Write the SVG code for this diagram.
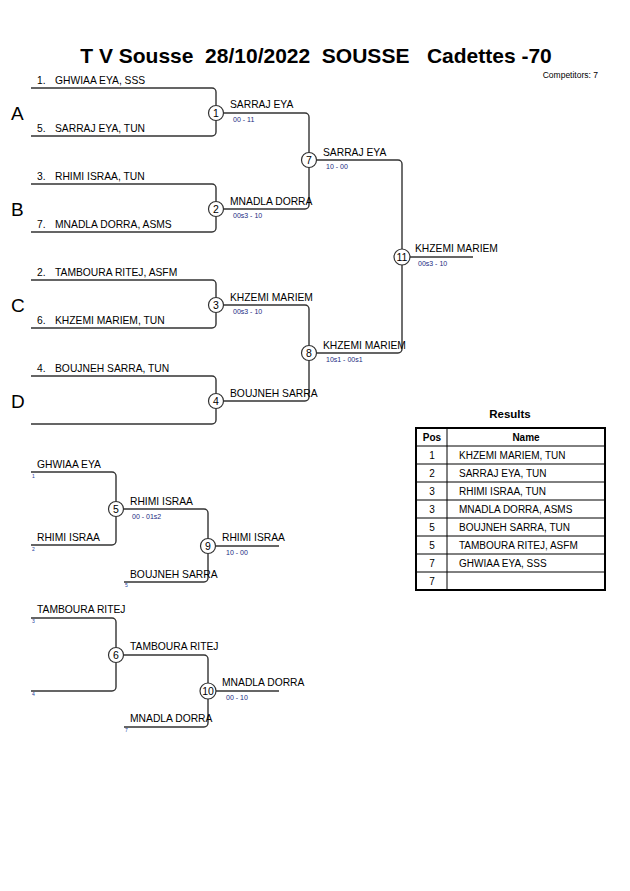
<svg xmlns="http://www.w3.org/2000/svg" width="630" height="891" viewBox="0 0 630 891">
<style>
text{font-family:"Liberation Sans",Arial,sans-serif;fill:#000}
.t{font-size:21px;font-weight:bold}
.n{font-size:10.3px}
.s{font-size:7px;fill:#1a2a80}
.g{font-size:19px}
.c{font-size:10.5px;text-anchor:middle}
.tiny{font-size:5px;fill:#2040a0}
.ln{fill:none;stroke:#333;stroke-width:1.4}
.cir{fill:#fff;stroke:#333;stroke-width:1.2}
.tb{fill:none;stroke:#000;stroke-width:1}
.tbo{fill:none;stroke:#000;stroke-width:2}
</style>
<rect width="630" height="891" fill="#fff"/>
<text class="t" x="316" y="63" text-anchor="middle" xml:space="preserve">T V Sousse  28/10/2022  SOUSSE   Cadettes -70</text>
<text x="598" y="78" font-size="8.5" text-anchor="end">Competitors: 7</text>
<g id="pools">
<text class="g" x="11" y="120">A</text>
<text class="g" x="11" y="216">B</text>
<text class="g" x="11" y="312">C</text>
<text class="g" x="11" y="408">D</text>
</g>
<g id="connectors">
<path class="ln" d="M31 88H212a4 4 0 0 1 4 4V132a4 4 0 0 1-4 4H31"/>
<path class="ln" d="M31 184H212a4 4 0 0 1 4 4V228a4 4 0 0 1-4 4H31"/>
<path class="ln" d="M31 280H212a4 4 0 0 1 4 4V324a4 4 0 0 1-4 4H31"/>
<path class="ln" d="M31 376H212a4 4 0 0 1 4 4V420a4 4 0 0 1-4 4H31"/>
<path class="ln" d="M216 113H305a4 4 0 0 1 4 4V205a4 4 0 0 1-4 4H216"/>
<path class="ln" d="M216 305H305a4 4 0 0 1 4 4V397a4 4 0 0 1-4 4H216"/>
<path class="ln" d="M309 160H398a4 4 0 0 1 4 4V349a4 4 0 0 1-4 4H309"/>
<path class="ln" d="M402 257H473"/>
<path class="ln" d="M31 472H112a4 4 0 0 1 4 4V541a4 4 0 0 1-4 4H31"/>
<path class="ln" d="M116 509H204a4 4 0 0 1 4 4V578a4 4 0 0 1-4 4H124"/>
<path class="ln" d="M208 546H279"/>
<path class="ln" d="M31 618H112a4 4 0 0 1 4 4V687a4 4 0 0 1-4 4H31"/>
<path class="ln" d="M116 655H204a4 4 0 0 1 4 4V723a4 4 0 0 1-4 4H124"/>
<path class="ln" d="M208 691H279"/>
</g>
<g id="entries">
<text class="n" x="37" y="84">1.</text><text class="n" x="55" y="84">GHWIAA EYA, SSS</text>
<text class="n" x="37" y="132">5.</text><text class="n" x="55" y="132">SARRAJ EYA, TUN</text>
<text class="n" x="37" y="180">3.</text><text class="n" x="55" y="180">RHIMI ISRAA, TUN</text>
<text class="n" x="37" y="228">7.</text><text class="n" x="55" y="228">MNADLA DORRA, ASMS</text>
<text class="n" x="37" y="276">2.</text><text class="n" x="55" y="276">TAMBOURA RITEJ, ASFM</text>
<text class="n" x="37" y="324">6.</text><text class="n" x="55" y="324">KHZEMI MARIEM, TUN</text>
<text class="n" x="37" y="372">4.</text><text class="n" x="55" y="372">BOUJNEH SARRA, TUN</text>
</g>
<g id="m1"><circle class="cir" cx="216" cy="113" r="7.5"/><text class="c" x="216" y="117">1</text>
<text class="n" x="230" y="108">SARRAJ EYA</text><text class="s" x="233" y="122">00 - 11</text></g>
<g id="m2"><circle class="cir" cx="216" cy="209" r="7.5"/><text class="c" x="216" y="213">2</text>
<text class="n" x="230" y="205">MNADLA DORRA</text><text class="s" x="233" y="218">00s3 - 10</text></g>
<g id="m3"><circle class="cir" cx="216" cy="305" r="7.5"/><text class="c" x="216" y="309">3</text>
<text class="n" x="230" y="301">KHZEMI MARIEM</text><text class="s" x="233" y="314">00s3 - 10</text></g>
<g id="m4"><circle class="cir" cx="216" cy="401" r="7.5"/><text class="c" x="216" y="405">4</text>
<text class="n" x="230" y="397">BOUJNEH SARRA</text></g>
<g id="m7"><circle class="cir" cx="309" cy="160" r="7.5"/><text class="c" x="309" y="164">7</text>
<text class="n" x="323" y="156">SARRAJ EYA</text><text class="s" x="326" y="169">10 - 00</text></g>
<g id="m8"><circle class="cir" cx="309" cy="353" r="7.5"/><text class="c" x="309" y="357">8</text>
<text class="n" x="323" y="349">KHZEMI MARIEM</text><text class="s" x="326" y="362">10s1 - 00s1</text></g>
<g id="m11"><circle class="cir" cx="402" cy="257" r="8"/><text class="c" x="402" y="261">11</text>
<text class="n" x="415" y="252">KHZEMI MARIEM</text><text class="s" x="418" y="266">00s3 - 10</text></g>
<g id="m5"><text class="n" x="37" y="468">GHWIAA EYA</text><text class="tiny" x="32" y="478">1</text>
<text class="n" x="37" y="541">RHIMI ISRAA</text><text class="tiny" x="32" y="551">2</text>
<circle class="cir" cx="116" cy="509" r="7.5"/><text class="c" x="116" y="513">5</text>
<text class="n" x="130" y="505">RHIMI ISRAA</text><text class="s" x="132" y="519">00 - 01s2</text></g>
<g id="m9"><text class="n" x="130" y="578">BOUJNEH SARRA</text><text class="tiny" x="125" y="587">5</text>
<circle class="cir" cx="208" cy="546" r="7.5"/><text class="c" x="208" y="550">9</text>
<text class="n" x="222" y="541">RHIMI ISRAA</text><text class="s" x="226" y="555">10 - 00</text></g>
<g id="m6"><text class="n" x="37" y="613">TAMBOURA RITEJ</text><text class="tiny" x="32" y="623">3</text>
<text class="tiny" x="32" y="696">4</text>
<circle class="cir" cx="116" cy="655" r="7.5"/><text class="c" x="116" y="659">6</text>
<text class="n" x="130" y="650">TAMBOURA RITEJ</text></g>
<g id="m10"><text class="n" x="130" y="722">MNADLA DORRA</text><text class="tiny" x="125" y="732">7</text>
<circle class="cir" cx="208" cy="691" r="8"/><text class="c" x="208" y="695">10</text>
<text class="n" x="222" y="686">MNADLA DORRA</text><text class="s" x="226" y="700">00 - 10</text></g>
<g id="results">
<text x="510" y="418" font-size="11.5" font-weight="bold" text-anchor="middle">Results</text>
<path class="tb" d="M416 446H605M416 464H605M416 482H605M416 500H605M416 518H605M416 536H605M416 554H605M416 572H605M447 428V590"/>
<rect class="tbo" x="416" y="428" width="189" height="162"/>
<g font-size="10">
<text x="432" y="441" text-anchor="middle" font-weight="bold">Pos</text>
<text x="526" y="441" text-anchor="middle" font-weight="bold">Name</text>
<text x="432" y="459" text-anchor="middle">1</text><text x="459" y="459">KHZEMI MARIEM, TUN</text>
<text x="432" y="477" text-anchor="middle">2</text><text x="459" y="477">SARRAJ EYA, TUN</text>
<text x="432" y="495" text-anchor="middle">3</text><text x="459" y="495">RHIMI ISRAA, TUN</text>
<text x="432" y="513" text-anchor="middle">3</text><text x="459" y="513">MNADLA DORRA, ASMS</text>
<text x="432" y="531" text-anchor="middle">5</text><text x="459" y="531">BOUJNEH SARRA, TUN</text>
<text x="432" y="549" text-anchor="middle">5</text><text x="459" y="549">TAMBOURA RITEJ, ASFM</text>
<text x="432" y="567" text-anchor="middle">7</text><text x="459" y="567">GHWIAA EYA, SSS</text>
<text x="432" y="585" text-anchor="middle">7</text>
</g>
</g>
</svg>
